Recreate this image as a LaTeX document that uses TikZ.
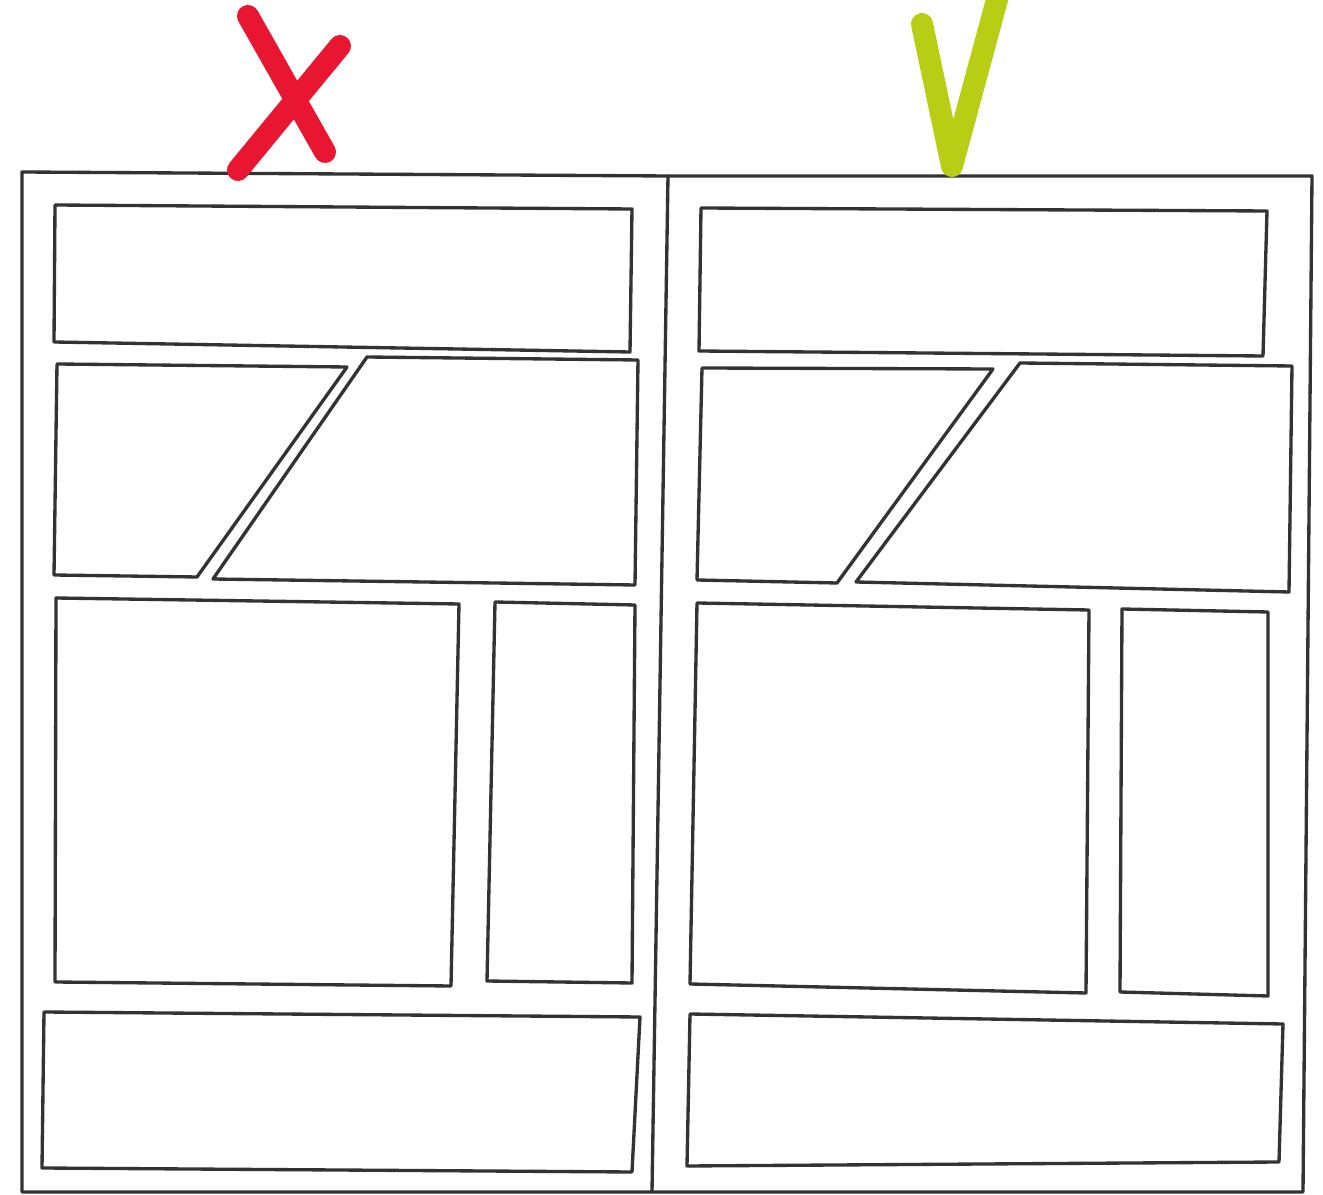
\documentclass[tikz,border=0pt]{standalone}
\usetikzlibrary{calc}

\definecolor{markred}{RGB}{232,22,48}
\definecolor{markgreen}{RGB}{184,206,20}

\begin{document}
\begin{tikzpicture}[
    x=0.02cm, y=-0.02cm,
    page/.style={draw=black!80, line width=1.9pt, line join=round},
    panel/.style={draw=black!80, line width=1.9pt, line join=round},
    marker/.style={line width=12.5pt, line cap=round, line join=round}
]

\useasboundingbox (0,0) rectangle (1323,1195);

% Pages
\coordinate (TL) at (22,172);
\coordinate (TM) at (668,176);
\coordinate (TR) at (1312,176);
\coordinate (BL) at (22,1192);
\coordinate (BM) at (652,1192);
\coordinate (BR) at (1303,1192);
\draw[page] (TM) -- (TL) -- (BL) -- (BM) -- cycle;
\draw[page] (TM) -- (TR) -- (BR) -- (BM);

% Left page panels
\draw[panel] (55,205) -- (632,209) -- (630,352) -- (54,342) -- cycle;
\draw[panel] (57,364) -- (347,367) -- (197,577) -- (54,575) -- cycle;
\draw[panel] (367,357) -- (638,360) -- (635,585) -- (213,579) -- cycle;
\draw[panel] (56,598) -- (459,604) -- (451,986) -- (55,982) -- cycle;
\draw[panel] (495,602) -- (635,605) -- (632,983) -- (487,981) -- cycle;
\draw[panel] (44,1012) -- (640,1017) -- (632,1172) -- (42,1168) -- cycle;

% Right page panels
\draw[panel] (701,208) -- (1267,211) -- (1263,356) -- (699,351) -- cycle;
\draw[panel] (702,368) -- (993,369) -- (837,583) -- (697,580) -- cycle;
\draw[panel] (1020,363) -- (1292,366) -- (1289,592) -- (856,582) -- cycle;
\draw[panel] (697,603) -- (1089,610) -- (1086,993) -- (690,984) -- cycle;
\draw[panel] (1122,609) -- (1268,612) -- (1268,996) -- (1120,992) -- cycle;
\draw[panel] (690,1014) -- (1283,1024) -- (1279,1162) -- (687,1166) -- cycle;

% Marks
\draw[marker, markred] (248,16) -- (325,152);
\draw[marker, markred] (340,46) -- (238,170);
\draw[marker, markgreen] (922,24) -- (952,166) -- (998,-4);

\end{tikzpicture}
\end{document}
